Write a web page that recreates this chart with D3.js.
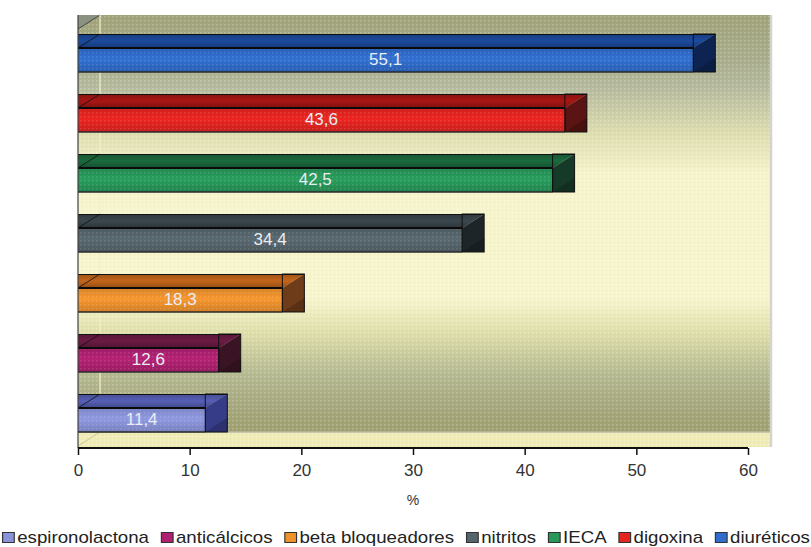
<!DOCTYPE html>
<html><head><meta charset="utf-8">
<script src="https://cdn.jsdelivr.net/npm/d3@7"></script>
<style>body{margin:0;background:#fff}svg{display:block;font-family:"Liberation Sans",Arial,sans-serif}</style>
</head><body>
<svg id="c" width="811" height="547"></svg>
<script>
const categories = ["diuréticos","digoxina","IECA","nitritos","beta bloqueadores","anticálcicos","espironolactona"];
const values = [55.1, 43.6, 42.5, 34.4, 18.3, 12.6, 11.4];
const frontColors = ["#2f6ccc","#e62420","#27985a","#56656c","#ef922c","#b02070","#8a94da"];
const topColors   = ["#1c4b9e","#a81614","#1b6a3e","#3a474d","#c4661a","#6c1b44","#5660b6"];
const endColors   = ["#0d2452","#5a1414","#163a28","#1e2528","#6e3c18","#3a1424","#363c88"];
const xTicks = [0, 10, 20, 30, 40, 50, 60];
const axisTitle = "%";

const svg = d3.select("#c");
const defs = svg.append("defs");
const x = d3.scaleLinear().domain([0, 60]).range([78, 748]);
const y = d3.scaleBand().domain(categories).range([18, 462]).paddingInner(0.6).paddingOuter(0.5);
const dx = 22, dy = 14;
const wallTop = 15, wallBottom = 432, wallRight = 770;
const fmt = d3.formatLocale({decimal: ",", thousands: ".", grouping: [3], currency: ["", ""]}).format(".1f");

// wall gradient
const g = defs.append("linearGradient").attr("id","wall").attr("x1",0).attr("y1",0).attr("x2",0).attr("y2",1);
[[0,"#a0a378"],[0.1,"#a8ac8a"],[0.17,"#b4b99c"],[0.28,"#dcdcae"],[0.38,"#f6f4ca"],[0.68,"#f7f5cc"],[0.76,"#dfdfaa"],[0.86,"#b6ba90"],[0.94,"#a5a77c"],[1,"#9fa06e"]]
  .forEach(([o,c]) => g.append("stop").attr("offset",o).attr("stop-color",c));
const pat = defs.append("pattern").attr("id","dots").attr("width",4).attr("height",4).attr("patternUnits","userSpaceOnUse");
pat.append("rect").attr("x",0).attr("y",0).attr("width",1.5).attr("height",1.5).attr("fill","#fff").attr("opacity",0.25);
pat.append("rect").attr("x",2).attr("y",2).attr("width",1).attr("height",1).attr("fill","#000").attr("opacity",0.04);

// front/top face gradients
categories.forEach((c,i) => {
  const fg = defs.append("linearGradient").attr("id","f"+i).attr("x1",0).attr("y1",0).attr("x2",0).attr("y2",1);
  const base = d3.color(frontColors[i]);
  fg.append("stop").attr("offset",0).attr("stop-color",base.darker(0.3));
  fg.append("stop").attr("offset",0.45).attr("stop-color",base.brighter(0.1));
  fg.append("stop").attr("offset",1).attr("stop-color",base.darker(0.4));
  const tg = defs.append("linearGradient").attr("id","t"+i).attr("x1",0).attr("y1",0).attr("x2",0).attr("y2",1);
  const tb = d3.color(topColors[i]);
  tg.append("stop").attr("offset",0).attr("stop-color",tb.darker(0.6));
  tg.append("stop").attr("offset",0.5).attr("stop-color",tb);
  tg.append("stop").attr("offset",1).attr("stop-color",tb.darker(0.8));
});

// back wall
svg.append("rect").attr("x",x(0)).attr("y",wallTop).attr("width",wallRight-x(0)).attr("height",wallBottom-wallTop).attr("fill","url(#wall)");
svg.append("rect").attr("x",x(0)).attr("y",wallTop).attr("width",wallRight-x(0)).attr("height",wallBottom-wallTop).attr("fill","url(#dots)");
// floor
svg.append("rect").attr("x",x(0)).attr("y",wallBottom).attr("width",wallRight-x(0)).attr("height",dy+1).attr("fill","#f0ecb6");
svg.append("rect").attr("x",x(0)).attr("y",wallBottom).attr("width",wallRight-x(0)).attr("height",dy+1).attr("fill","url(#dots)");
svg.append("line").attr("x1",x(0)).attr("x2",wallRight).attr("y1",wallBottom).attr("y2",wallBottom).attr("stroke","#b8b8a8").attr("stroke-width",1.5);
svg.append("line").attr("x1",wallRight+1).attr("x2",wallRight+1).attr("y1",wallTop).attr("y2",wallBottom+dy+1).attr("stroke","#d4d4cc").attr("stroke-width",2.5);
// side wall corner
svg.append("path").attr("d",`M${x(0)},${wallTop}L${x(0)+dx},${wallTop}L${x(0)},${wallTop+dy}Z`).attr("fill","#8c9282");
svg.append("line").attr("x1",x(0)).attr("y1",wallTop+dy).attr("x2",x(0)+dx).attr("y2",wallTop).attr("stroke","#404840").attr("stroke-width",1);
svg.append("line").attr("x1",x(0)+dx).attr("x2",x(0)+dx).attr("y1",wallTop).attr("y2",wallBottom).attr("stroke","#f4f0c8").attr("stroke-width",1.5).attr("opacity",0.8);
svg.append("path").attr("d",`M${x(0)},${wallBottom+dy}L${x(0)+dx},${wallBottom}`).attr("stroke","#c8c8a0").attr("stroke-width",1);

// bars
const bars = svg.append("g").selectAll("g").data(categories).join("g");
bars.each(function(c,i){
  const gg = d3.select(this);
  const x0 = x(0), x1 = x(values[i]), y0 = y(c), h = y.bandwidth();
  gg.append("path").attr("d",`M${x0},${y0-dy}L${x1+dx},${y0-dy}L${x1},${y0}L${x0},${y0}Z`).attr("fill","url(#t"+i+")");
  gg.append("line").attr("x1",x0).attr("x2",x1+dx).attr("y1",y0-dy+0.5).attr("y2",y0-dy+0.5).attr("stroke","#111").attr("stroke-width",1);
  gg.append("line").attr("x1",x0).attr("y1",y0).attr("x2",x0+dx).attr("y2",y0-dy).attr("stroke","#111").attr("stroke-width",1).attr("opacity",0.8);
  gg.append("path").attr("d",`M${x1},${y0}L${x1+dx},${y0-dy}L${x1+dx},${y0+h}L${x1},${y0+h}Z`).attr("fill",endColors[i]);
  gg.append("path").attr("d",`M${x1},${y0+h}L${x1+dx},${y0+h-dy}L${x1+dx},${y0+h}Z`).attr("fill",d3.color(endColors[i]).darker(0.6));
  gg.append("rect").attr("x",x1).attr("y",y0-dy).attr("width",dx).attr("height",h+dy).attr("fill","none").attr("stroke","#111").attr("stroke-width",1);
  gg.append("rect").attr("x",x0).attr("y",y0).attr("width",x1-x0).attr("height",h).attr("fill","url(#f"+i+")");
  gg.append("rect").attr("x",x0).attr("y",y0).attr("width",x1-x0).attr("height",h).attr("fill","url(#dots)").attr("opacity",0.5);
  gg.append("line").attr("x1",x0).attr("x2",x1).attr("y1",y0).attr("y2",y0).attr("stroke","#0a0a0a").attr("stroke-width",2);
  gg.append("line").attr("x1",x0).attr("x2",x1).attr("y1",y0+h).attr("y2",y0+h).attr("stroke","#2a2a2a").attr("stroke-width",1.5);
  gg.append("line").attr("x1",x1).attr("x2",x1).attr("y1",y0).attr("y2",y0+h).attr("stroke","#111").attr("stroke-width",1.2);
  gg.append("text").attr("x",(x0+x1)/2).attr("y",y0+h/2+1).attr("text-anchor","middle").attr("dominant-baseline","middle")
    .attr("font-size",17).attr("fill","#e8eef4").text(fmt(values[i]));
});

// left axis line
svg.append("line").attr("x1",x(0)).attr("x2",x(0)).attr("y1",wallTop).attr("y2",wallBottom+dy+2).attr("stroke","#444").attr("stroke-width",1.2);

// x axis
const ax = svg.append("g").attr("transform",`translate(0,${wallBottom+dy+2})`)
  .call(d3.axisBottom(x).tickValues(xTicks).tickSize(7).tickPadding(9).tickFormat(d3.format("d")));
ax.select(".domain").attr("stroke","#111").attr("stroke-width",2.2).attr("d",`M${x(0)},0H${x(60)}`);
ax.selectAll(".tick line").attr("stroke","#111").attr("stroke-width",1.5);
ax.selectAll(".tick text").attr("font-size",17).attr("fill","#333").attr("font-family","Liberation Sans, Arial, sans-serif");
svg.append("text").attr("x",413).attr("y",505).attr("text-anchor","middle").attr("font-size",14).attr("fill","#333").text(axisTitle);

// legend
const leg = svg.append("g");
let cx = 0;
const legendItems = categories.map((c,i)=>({c,i})).reverse();
legendItems.forEach(({c,i}) => {
  leg.append("rect").attr("x",cx+0.5).attr("y",532.5).attr("width",10).attr("height",10).attr("fill",frontColors[i]).attr("stroke","#333").attr("stroke-width",1);
  const t = leg.append("text").attr("x",cx+13).attr("y",543).attr("font-size",16).attr("fill","#222").text(c);
  cx += 13 + t.node().getComputedTextLength() + 10;
});
const total = cx - 10;
const sx = (810 - 2) / total;
leg.attr("transform",`translate(2,0) scale(${sx},1)`);
</script>
</body></html>
